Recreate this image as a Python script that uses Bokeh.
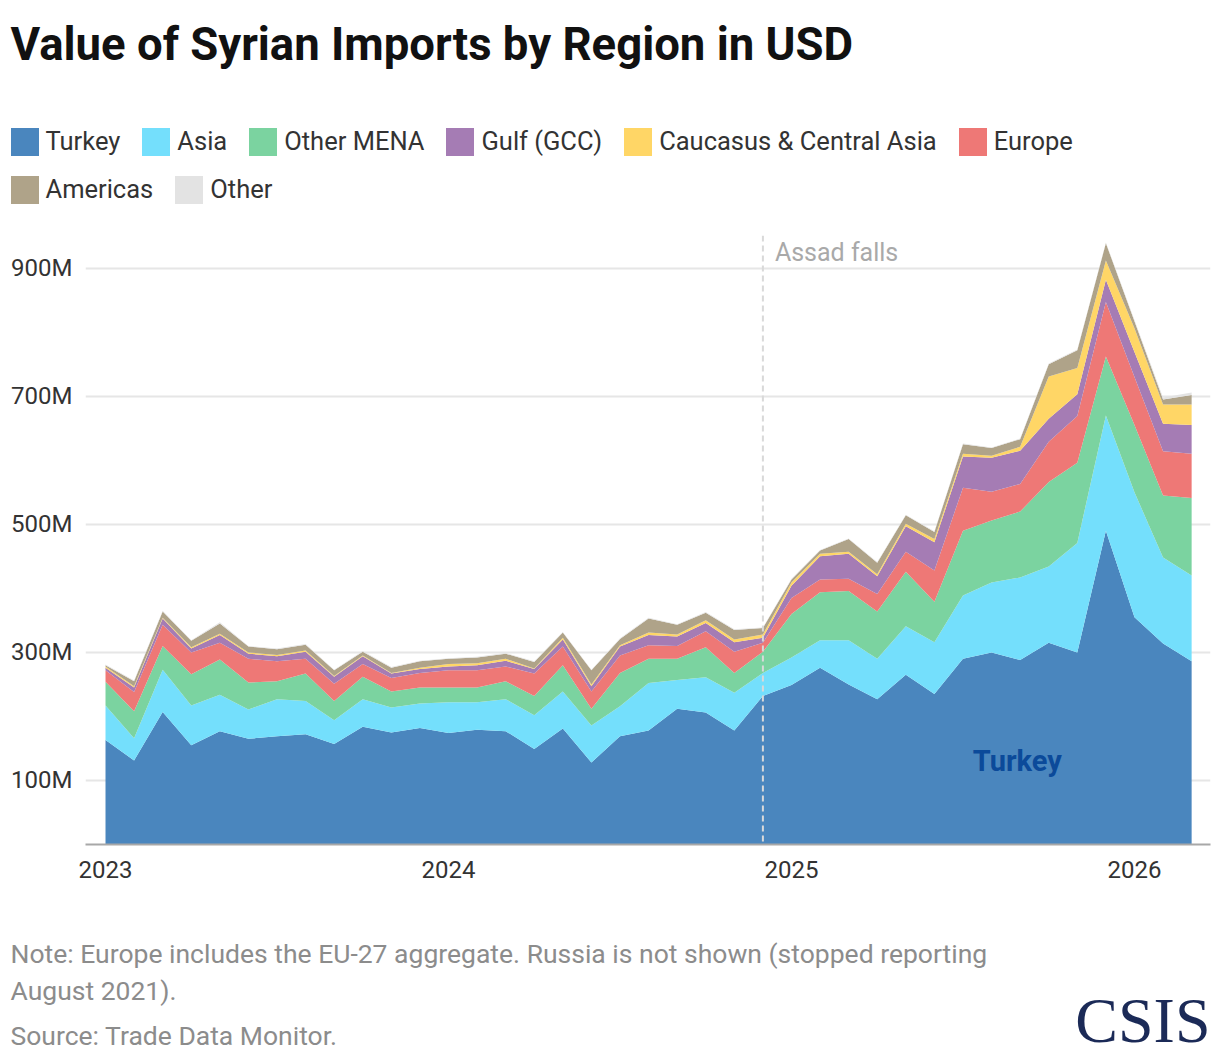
from bokeh.embed import file_html
from bokeh.layouts import column
from bokeh.models import (ColumnDataSource, FixedTicker, Label, Legend,
                          LegendItem, Range1d, Span)
from bokeh.plotting import figure
from bokeh.resources import INLINE

# monthly values, Jan 2023 .. Mar 2026, in millions of USD
months = list(range(39))
year_ticks = [0, 12, 24, 36]
year_labels = ["2023", "2024", "2025", "2026"]
value_ticks = [100, 300, 500, 700, 900]
value_labels = ["100M", "300M", "500M", "700M", "900M"]

turkey = [163, 131, 207, 155, 177, 165, 169, 172, 157, 184, 175, 182, 174, 179, 177, 149, 181, 128, 169, 178,
          212, 206, 178, 232, 249, 276, 250, 227, 265, 235, 290, 300, 288, 315, 300, 490, 355, 314, 286]
asia = [54, 35, 66, 62, 57, 46, 58, 52, 37, 43, 39, 38, 48, 43, 50, 53, 58, 58, 47, 74,
        45, 55, 59, 36, 43, 43, 69, 63, 76, 81, 99, 109, 129, 119, 171, 180, 195, 134, 134]
other_mena = [37, 42, 37, 49, 55, 42, 28, 43, 30, 35, 25, 25, 23, 23, 28, 30, 41, 26, 52, 38,
              33, 47, 31, 33, 68, 75, 77, 74, 85, 63, 101, 97, 103, 132, 125, 92, 105, 97, 121]
europe = [18, 30, 33, 34, 26, 37, 31, 23, 27, 20, 21, 23, 27, 27, 23, 35, 29, 27, 27, 21,
          20, 25, 33, 14, 25, 20, 19, 27, 31, 49, 67, 45, 43, 63, 73, 85, 75, 69, 69]
gulf = [4, 7, 10, 6, 12, 8, 8, 11, 11, 12, 7, 6, 6, 8, 9, 7, 11, 8, 14, 16,
        15, 13, 15, 8, 19, 36, 39, 28, 40, 44, 49, 53, 52, 36, 34, 35, 39, 43, 45]
caucasus = [2, 2, 1, 2, 2, 2, 2, 2, 1, 1, 1, 2, 4, 3, 3, 1, 3, 3, 2, 4,
            3, 4, 4, 5, 5, 4, 3, 3, 4, 5, 4, 3, 6, 66, 41, 30, 37, 30, 32]
americas = [2, 8, 10, 10, 16, 9, 9, 9, 9, 6, 8, 10, 8, 9, 8, 10, 8, 22, 10, 22,
            15, 12, 15, 10, 5, 5, 20, 18, 13, 11, 15, 12, 12, 19, 28, 27, 11, 8, 15]
other = [1, 1, 1, 1, 2, 1, 1, 1, 1, 1, 1, 1, 1, 1, 1, 1, 1, 1, 1, 1,
         1, 1, 1, 1, 1, 1, 1, 1, 1, 1, 1, 1, 1, 1, 1, 1, 2, 3, 4]

event_month = 23  # Dec 2024
event_label = "Assad falls"

# stacking order (bottom -> top)
keys = ["turkey", "asia", "mena", "europe", "gulf", "caucasus", "americas", "other"]
names = ["Turkey", "Asia", "Other MENA", "Europe", "Gulf (GCC)",
         "Caucasus & Central Asia", "Americas", "Other"]
colors = ["#4a86be", "#74dffc", "#7bd3a0", "#ee7876", "#a57cb4",
          "#ffd666", "#afa389", "#e3e3e3"]

src = ColumnDataSource(dict(x=months, turkey=turkey, asia=asia, mena=other_mena,
                            europe=europe, gulf=gulf, caucasus=caucasus,
                            americas=americas, other=other))

FONT = "Roboto"
W = 1212


def blank(height):
    # a plain canvas: the frame covers the whole figure, ranges far from the data
    f = figure(width=W, height=height, output_backend="svg", toolbar_location=None,
               x_axis_type=None, y_axis_type=None, x_range=(-100, -99), y_range=(0, 1),
               min_border=0, frame_align=False)
    f.outline_line_color = None
    f.border_fill_color = "white"
    f.background_fill_color = "white"
    return f


# ---- header: title + legend
head = blank(235)
head.add_layout(Label(x=10, y=191, x_units="screen", y_units="screen",
                      text="Value of Syrian Imports by Region in USD",
                      text_font=FONT, text_font_style="bold", text_font_size="45.5px",
                      text_color="#111111", text_baseline="middle"))
legend_renderers = dict(zip(names, head.varea_stack(stackers=keys, x="x", color=colors, source=src)))
row1 = ["Turkey", "Asia", "Other MENA", "Gulf (GCC)", "Caucasus & Central Asia", "Europe"]
row2 = ["Americas", "Other"]
for row, vy in ((row1, 76.5), (row2, 28.5)):
    items = [LegendItem(label=n, renderers=[legend_renderers[n]]) for n in row]
    head.add_layout(Legend(items=items, orientation="horizontal", location=(6.5, vy),
                           glyph_width=35, glyph_height=35, label_height=35,
                           label_standoff=4, spacing=18, padding=0, margin=0,
                           border_line_color=None, background_fill_alpha=0,
                           label_text_font=FONT, label_text_font_size="25.5px",
                           label_text_color="#333333"))

# ---- main chart
p = figure(width=W, height=650, output_backend="svg", toolbar_location=None,
           x_range=Range1d(-0.7, 38.66), y_range=Range1d(0, 951), frame_align=False,
           min_border_left=85, min_border_right=2, min_border_top=0, min_border_bottom=41)
p.outline_line_color = None
p.background_fill_color = "white"
p.border_fill_color = "white"

p.varea_stack(stackers=keys, x="x", color=colors, source=src)

p.xaxis.ticker = FixedTicker(ticks=year_ticks)
p.xaxis.major_label_overrides = dict(zip(year_ticks, year_labels))
p.xaxis.axis_line_color = "#a8a8a8"
p.xaxis.axis_line_width = 2
p.xaxis.major_tick_line_color = None
p.xaxis.minor_tick_line_color = None
p.xaxis.major_label_standoff = 10
p.xaxis.major_label_text_font = FONT
p.xaxis.major_label_text_font_size = "24px"
p.xaxis.major_label_text_color = "#333333"

p.yaxis.ticker = FixedTicker(ticks=value_ticks)
p.yaxis.major_label_overrides = dict(zip(value_ticks, value_labels))
p.yaxis.axis_line_color = None
p.yaxis.major_tick_line_color = None
p.yaxis.minor_tick_line_color = None
p.yaxis.major_tick_out = 0
p.yaxis.major_tick_in = 0
p.yaxis.major_label_standoff = 13
p.yaxis.major_label_text_font = FONT
p.yaxis.major_label_text_font_size = "24px"
p.yaxis.major_label_text_color = "#333333"

p.xgrid.grid_line_color = None
p.ygrid.grid_line_color = "#e6e6e6"
p.ygrid.grid_line_width = 2

p.add_layout(Span(location=event_month, dimension="height", line_color="#d9d9d9",
                  line_width=2, line_dash="6 4"))
p.add_layout(Label(x=event_month, y=925, x_offset=12, text=event_label,
                   text_font=FONT, text_font_size="25px", text_color="#a9a9a9",
                   text_baseline="middle"))
p.add_layout(Label(x=31.9, y=130, text="Turkey", text_font=FONT, text_font_style="bold",
                   text_font_size="29px", text_color="#0b4a9a",
                   text_align="center", text_baseline="middle"))

# ---- footer: note, source, logo
foot = blank(172)
notes = ["Note: Europe includes the EU-27 aggregate. Russia is not shown (stopped reporting",
         "August 2021).",
         "Source: Trade Data Monitor."]
for txt, y in zip(notes, (104, 67, 22)):
    foot.add_layout(Label(x=10, y=y, x_units="screen", y_units="screen", text=txt,
                          text_font=FONT, text_font_size="26.5px", text_color="#8c8c8c",
                          text_baseline="middle"))
foot.add_layout(Label(x=1210, y=37, x_units="screen", y_units="screen", text="CSIS",
                      text_font="Liberation Serif", text_font_size="64px", text_color="#1b2a57",
                      text_align="right", text_baseline="middle"))

layout = column(head, p, foot, spacing=0)
open("out.html", "w").write(file_html(layout, INLINE))
